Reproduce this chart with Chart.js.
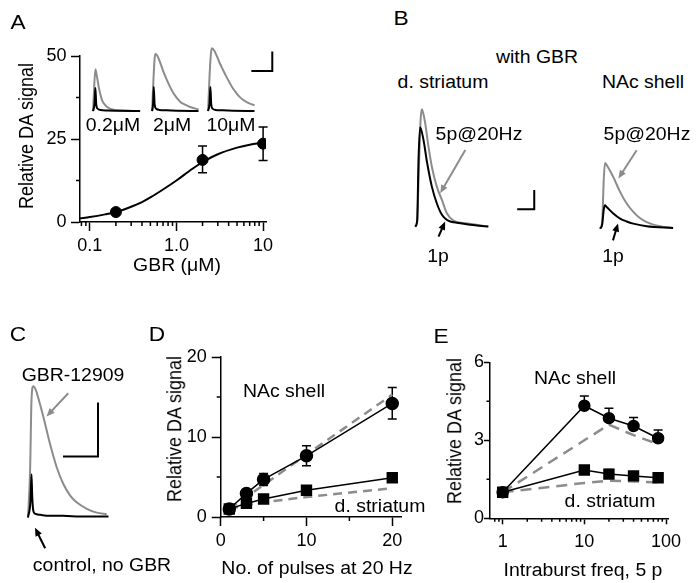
<!DOCTYPE html>
<html>
<head>
<meta charset="utf-8">
<title>GBR and dopamine release</title>
<script src="https://cdn.jsdelivr.net/npm/chart.js@4.4.1/dist/chart.umd.min.js"></script>
<style>
  body { margin: 0; background: #fff; }
  #fig { position: relative; width: 700px; height: 583px; overflow: hidden; }
  .t { position: absolute; transform: translate(-50%, -50%) scaleX(1.08); white-space: nowrap;
       font: 18px "Liberation Sans", Arial, sans-serif; line-height: 1; color: #000; z-index: 5; }
  .t.y { transform: translate(-50%, -50%) rotate(-90deg) scaleY(1.08); }
  .big { font-size: 21px; }
</style>
</head>
<body>
<div id="fig">
  <div class="t big" style="left:17.5px;top:20.5px">A</div>
  <div class="t" style="left:113px;top:125px">0.2μM</div>
  <div class="t" style="left:172px;top:125px">2μM</div>
  <div class="t" style="left:231px;top:125px">10μM</div>
  <div class="t" style="left:177px;top:265px">GBR (μM)</div>
  <div class="t y" style="left:26.7px;top:136px">Relative DA signal</div>

  <div class="t big" style="left:401px;top:17px">B</div>
  <div class="t" style="left:537px;top:57px">with GBR</div>
  <div class="t" style="left:443px;top:82px">d. striatum</div>
  <div class="t" style="left:643px;top:82px">NAc shell</div>
  <div class="t" style="left:479px;top:134px">5p@20Hz</div>
  <div class="t" style="left:646.7px;top:134px">5p@20Hz</div>
  <div class="t" style="left:437.5px;top:256px">1p</div>
  <div class="t" style="left:612.5px;top:256px">1p</div>

  <div class="t big" style="left:18px;top:333px">C</div>
  <div class="t" style="left:73px;top:375px">GBR-12909</div>
  <div class="t" style="left:102px;top:565px">control, no GBR</div>

  <div class="t big" style="left:157px;top:333px">D</div>
  <div class="t" style="left:284px;top:391px">NAc shell</div>
  <div class="t" style="left:380px;top:506px">d. striatum</div>
  <div class="t" style="left:316.7px;top:568px">No. of pulses at 20 Hz</div>
  <div class="t y" style="left:175px;top:428.5px">Relative DA signal</div>

  <div class="t big" style="left:441px;top:335px">E</div>
  <div class="t" style="left:575px;top:378px">NAc shell</div>
  <div class="t" style="left:610px;top:501px">d. striatum</div>
  <div class="t" style="left:583px;top:570px">Intraburst freq, 5 p</div>
  <div class="t y" style="left:455px;top:431px">Relative DA signal</div>
</div>
<script>
Chart.defaults.font.family = '"Liberation Sans", Arial, sans-serif';
Chart.defaults.color = '#000';

var GRAY = '#8c8c8c';

// A: dose response to GBR
var gbrDose = [0.2, 2, 10];
var gbrSignal = [3.0, 18.7, 23.6];
var gbrErrUp = [0, 4.2, 5.0];
var gbrErrDown = [0, 3.9, 5.1];
var fitDose = [0.077, 0.1, 0.15, 0.2, 0.3, 0.4, 0.5, 0.7, 1.0, 1.5, 2, 3, 5, 7, 10];
var fitSignal = [1.1, 1.5, 2.3, 3.0, 4.6, 6.0, 7.4, 9.8, 12.5, 15.9, 18.0, 20.4, 22.4, 23.3, 23.9];
var gbrTicks = [0.1, 1, 10];
var gbrTickLabels = ['0.1', '1.0', '10'];
var gbrMinor = [0.08, 0.09, 0.2, 0.3, 0.4, 0.5, 0.6, 0.7, 0.8, 0.9, 2, 3, 4, 5, 6, 7, 8, 9];
var aTicks = [0, 25, 50];
var aTickLabels = ['0', '25', '50'];

// A insets (time in s, signal in scale-bar units)
var gray02T = [0, 0.05, 0.11, 0.18, 0.27, 0.35, 0.43, 0.55, 0.67, 0.97, 1.4, 2.25];
var gray02V = [0, 1.2, 2.15, 1.8, 1.24, 0.85, 0.55, 0.35, 0.21, 0.07, 0.03, 0];
var black02T = [0, 0.07, 0.11, 0.15, 0.22, 0.35, 0.7, 1.2, 2.25];
var black02V = [0, 0.4, 1.19, 0.35, 0.12, 0.06, 0.03, 0.02, 0];
var gray2T = [0, 0.06, 0.12, 0.16, 0.25, 0.4, 0.55, 0.71, 0.87, 1.03, 1.2, 1.35, 1.6, 1.82, 2.22];
var gray2V = [0, 1.5, 2.7, 2.94, 2.85, 2.46, 2.0, 1.59, 1.22, 0.9, 0.66, 0.47, 0.32, 0.21, 0.09];
var black2T = [0, 0.05, 0.08, 0.12, 0.2, 0.35, 0.7, 1.2, 2.22];
var black2V = [0, 0.4, 1.24, 0.35, 0.12, 0.06, 0.04, 0.02, 0];
var gray10T = [0, 0.07, 0.14, 0.19, 0.3, 0.43, 0.56, 0.72, 0.88, 1.04, 1.19, 1.35, 1.51, 1.67, 1.83, 2.0, 2.22];
var gray10V = [0, 1.8, 3.0, 3.23, 3.1, 2.8, 2.46, 2.1, 1.76, 1.44, 1.16, 0.93, 0.73, 0.58, 0.47, 0.38, 0.3];
var black10T = [0, 0.07, 0.11, 0.15, 0.22, 0.35, 0.7, 1.2, 2.22];
var black10V = [0, 0.4, 1.24, 0.35, 0.12, 0.06, 0.04, 0.02, 0];
var insetBarT = [2.07, 3.07, 3.07];
var insetBarV = [2.06, 2.06, 3.06];

// B: with GBR, 1p vs 5p@20Hz
var grayStrT = [0, 0.12, 0.22, 0.32, 0.39, 0.47, 0.59, 0.78, 0.98, 1.27, 1.57, 1.86, 2.25, 3.02, 4.29];
var grayStrV = [0, 0.3, 3.0, 5.5, 6.08, 5.9, 5.36, 4.15, 3.1, 2.07, 1.38, 0.69, 0.31, 0.17, 0];
var blackStrT = [0, 0.12, 0.2, 0.29, 0.49, 0.69, 0.98, 1.27, 1.57, 1.86, 2.65, 4.29];
var blackStrV = [0, 0.3, 3.5, 5.15, 4.49, 3.37, 2.07, 1.21, 0.61, 0.35, 0.17, 0];
var grayNacT = [0, 0.12, 0.22, 0.29, 0.45, 0.78, 1.18, 1.57, 1.96, 2.35, 2.75, 3.53, 4.31];
var grayNacV = [0, 0.3, 2.6, 3.4, 3.2, 2.67, 1.9, 1.3, 0.87, 0.55, 0.34, 0.12, 0.03];
var blackNacT = [0, 0.12, 0.22, 0.29, 0.39, 0.78, 1.18, 1.57, 1.96, 2.75, 4.31];
var blackNacV = [0, 0.2, 1.0, 1.21, 1.12, 0.78, 0.52, 0.37, 0.26, 0.12, 0.03];
var bBarT = [5.98, 6.98, 6.98];
var bBarV = [0.9, 0.9, 1.9];

// C: GBR-12909 vs control
var grayCT = [0, 0.06, 0.1, 0.15, 0.23, 0.29, 0.44, 0.63, 0.82, 1.01, 1.2, 1.39, 1.68, 1.96, 2.25];
var grayCV = [0, 0.87, 2.17, 2.43, 2.35, 2.22, 1.86, 1.36, 0.93, 0.62, 0.41, 0.28, 0.16, 0.09, 0.06];
var blackCT = [0, 0.07, 0.1, 0.12, 0.15, 0.2, 0.35, 0.6, 1.0, 1.5, 2.0, 2.3];
var blackCV = [0, 0.3, 0.8, 0.4, 0.13, 0.07, 0.05, 0.03, 0.03, 0.02, 0.02, 0.02];
var cBarT = [1.0, 2.0, 2.0];
var cBarV = [1.13, 1.13, 2.13];

// D: number of pulses at 20 Hz
var pulses = [1, 3, 5, 10, 20];
var nacPulse = [1, 2.95, 4.7, 7.65, 14.2];
var nacPulseErrUp = [0, 0.3, 0.75, 1.25, 2.0];
var nacPulseErrDown = [0, 0.3, 0.75, 1.25, 1.95];
var dsPulse = [1, 1.7, 2.25, 3.35, 4.9];
var nacPulseDash = [1, 2.5, 4.0, 7.8, 15.3];
var dsPulseDash = [1, 1.5, 1.85, 2.5, 3.6];
var dTicks = [0, 10, 20];
var dTickLabels = ['0', '10', '20'];

// E: intraburst frequency, 5 pulses
var freq = [1, 10, 20, 40, 80];
var nacFreq = [1, 4.33, 3.85, 3.55, 3.08];
var nacFreqErrUp = [0, 0.37, 0.38, 0.33, 0.32];
var dsFreq = [1, 1.86, 1.70, 1.63, 1.56];
var dsFreqErrUp = [0, 0.05, 0.18, 0.1, 0.1];
var nacFreqDash = [1, 3.0, 3.6, 3.2, 2.85];
var dsFreqDash = [1, 1.36, 1.45, 1.42, 1.38];
var freqTicks = [1, 10, 100];
var freqTickLabels = ['1', '10', '100'];
var freqMinor = [0.8, 0.9, 2, 3, 4, 5, 6, 7, 8, 9, 20, 30, 40, 50, 60, 70, 80, 90];
var eTicks = [0, 3, 6];
var eTickLabels = ['0', '3', '6'];

function pts(xs, ys) {
  return xs.map(function (x, i) { return {x: x, y: ys[i]}; });
}

function canvasAt(left, top, w, h) {
  var c = document.createElement('canvas');
  c.width = Math.round(w);
  c.height = Math.round(h);
  c.style.position = 'absolute';
  c.style.left = Math.round(left) + 'px';
  c.style.top = Math.round(top) + 'px';
  document.getElementById('fig').appendChild(c);
  return c;
}

// short ticks between the labelled ones
var minorTicks = {
  id: 'minorTicks',
  afterDraw: function (chart, args, opts) {
    var ctx = chart.ctx, a = chart.chartArea;
    ctx.save();
    ctx.strokeStyle = '#000';
    ctx.lineWidth = 1.5;
    ctx.beginPath();
    (opts.x || []).forEach(function (v) {
      var px = chart.scales.x.getPixelForValue(v);
      ctx.moveTo(px, a.bottom);
      ctx.lineTo(px, a.bottom + opts.len);
    });
    (opts.y || []).forEach(function (v) {
      var py = chart.scales.y.getPixelForValue(v);
      ctx.moveTo(a.left, py);
      ctx.lineTo(a.left - opts.len, py);
    });
    ctx.stroke();
    ctx.restore();
  }
};

var errorBars = {
  id: 'errorBars',
  beforeDatasetsDraw: function (chart) {
    var ctx = chart.ctx, xs = chart.scales.x, ys = chart.scales.y;
    chart.data.datasets.forEach(function (ds) {
      if (!ds.errUp && !ds.errDown) return;
      ds.data.forEach(function (p, i) {
        var x = xs.getPixelForValue(p.x);
        [[ds.errUp, 1], [ds.errDown, -1]].forEach(function (e) {
          var d = e[0] ? e[0][i] : 0;
          if (!d) return;
          var y0 = ys.getPixelForValue(p.y), y1 = ys.getPixelForValue(p.y + e[1] * d);
          ctx.save();
          ctx.strokeStyle = '#000';
          ctx.lineWidth = 1.5;
          ctx.beginPath();
          ctx.moveTo(x, y0); ctx.lineTo(x, y1);
          ctx.moveTo(x - 4.5, y1); ctx.lineTo(x + 4.5, y1);
          ctx.stroke();
          ctx.restore();
        });
      });
    });
  }
};

var arrowPlugin = {
  id: 'arrows',
  afterDatasetsDraw: function (chart, args, opts) {
    var xs = chart.scales.x, ys = chart.scales.y, ctx = chart.ctx;
    (opts.list || []).forEach(function (a) {
      var x1 = xs.getPixelForValue(a.from[0]), y1 = ys.getPixelForValue(a.from[1]);
      var x2 = xs.getPixelForValue(a.to[0]), y2 = ys.getPixelForValue(a.to[1]);
      var ang = Math.atan2(y2 - y1, x2 - x1), head = 9;
      ctx.save();
      ctx.strokeStyle = a.color;
      ctx.fillStyle = a.color;
      ctx.lineWidth = 2;
      ctx.beginPath();
      ctx.moveTo(x1, y1);
      ctx.lineTo(x2 - Math.cos(ang) * head * 0.8, y2 - Math.sin(ang) * head * 0.8);
      ctx.stroke();
      ctx.beginPath();
      ctx.moveTo(x2, y2);
      ctx.lineTo(x2 - head * Math.cos(ang - 0.4), y2 - head * Math.sin(ang - 0.4));
      ctx.lineTo(x2 - head * Math.cos(ang + 0.4), y2 - head * Math.sin(ang + 0.4));
      ctx.closePath();
      ctx.fill();
      ctx.restore();
    });
  }
};

function axis(type, min, max, major, labels, tickLen, pad, size, horiz) {
  return {
    type: type, min: min, max: max,
    afterBuildTicks: function (s) { s.ticks = major.map(function (v) { return {value: v}; }); },
    afterFit: function (s) { if (horiz) { s.height = size; } else { s.width = size; } },
    ticks: {
      autoSkip: false, maxRotation: 0, minRotation: 0, padding: pad, color: '#000',
      font: {size: 18},
      callback: function (v, i) { return labels[i]; }
    },
    grid: {drawOnChartArea: false, tickLength: tickLen, tickWidth: 1.5, tickColor: '#000'},
    border: {color: '#000', width: 1.5},
    title: {display: false}
  };
}

function plotChart(el, datasets, xAxis, yAxis, pad, minor) {
  return new Chart(el, {
    type: 'line',
    data: {datasets: datasets},
    options: {
      responsive: false, animation: false, events: [],
      layout: {padding: pad},
      plugins: {legend: {display: false}, tooltip: {enabled: false}, minorTicks: minor},
      scales: {x: xAxis, y: yAxis}
    },
    plugins: [minorTicks, errorBars]
  });
}

function trace(ts, vs, color) {
  return {data: pts(ts, vs), borderColor: color, borderWidth: 2, pointRadius: 0,
          cubicInterpolationMode: 'monotone', fill: false};
}
function scaleBar(ts, vs) {
  return {data: pts(ts, vs), borderColor: '#000', borderWidth: 2, pointRadius: 0, tension: 0};
}

function traceChart(el, xr, yr, series, arrowList) {
  return new Chart(el, {
    type: 'line',
    data: {datasets: series},
    options: {
      responsive: false, animation: false, events: [],
      layout: {padding: 0},
      plugins: {legend: {display: false}, tooltip: {enabled: false}, arrows: {list: arrowList || []}},
      scales: {
        x: {type: 'linear', display: false, min: xr[0], max: xr[1]},
        y: {type: 'linear', display: false, min: yr[0], max: yr[1]}
      }
    },
    plugins: [arrowPlugin]
  });
}

// ---- A ----
plotChart(canvasAt(0, 0, 300, 290), [
  {data: pts(gbrDose, gbrSignal), errUp: gbrErrUp, errDown: gbrErrDown, showLine: false,
   pointRadius: 5.5, pointBackgroundColor: '#000', pointBorderColor: '#000'},
  {data: pts(fitDose, fitSignal), borderColor: '#000', borderWidth: 2, pointRadius: 0,
   cubicInterpolationMode: 'monotone'}
],
  axis('logarithmic', 0.077, 10.8, gbrTicks, gbrTickLabels, 9, 4, 68, true),
  axis('linear', 0, 50, aTicks, aTickLabels, 9, 4.5, 80, false),
  {left: 0, top: 56, right: 34, bottom: 0},
  {x: gbrMinor, y: [12.5, 37.5], len: 4});

var insetRange = [[-0.1, 3.2], [-0.15, 3.4]];
traceChart(canvasAt(90.6, 45.1, 69.3, 68.5), insetRange[0], insetRange[1], [
  trace(black02T, black02V, '#000'), trace(gray02T, gray02V, GRAY)]);
traceChart(canvasAt(149.6, 45.1, 69.3, 68.5), insetRange[0], insetRange[1], [
  trace(black2T, black2V, '#000'), trace(gray2T, gray2V, GRAY)]);
traceChart(canvasAt(206.2, 45.1, 69.3, 68.5), insetRange[0], insetRange[1], [
  trace(black10T, black10V, '#000'), trace(gray10T, gray10V, GRAY), scaleBar(insetBarT, insetBarV)]);

// ---- B ----
traceChart(canvasAt(409.9, 103.2, 127.5, 140.9), [-0.3, 7.2], [-0.9, 6.4], [
  trace(blackStrT, blackStrV, '#000'), trace(grayStrT, grayStrV, GRAY), scaleBar(bBarT, bBarV)
], [
  {from: [2.94, 3.97], to: [1.47, 1.73], color: GRAY},
  {from: [1.37, -0.52], to: [1.76, 0.26], color: '#000'}
]);
traceChart(canvasAt(594.9, 104.8, 83.3, 140.9), [-0.3, 4.6], [-0.9, 6.4], [
  trace(blackNacT, blackNacV, '#000'), trace(grayNacT, grayNacV, GRAY)
], [
  {from: [2.16, 4.06], to: [1.08, 2.59], color: GRAY},
  {from: [0.76, -0.61], to: [1.06, 0.27], color: '#000'}
]);

// ---- C ----
traceChart(canvasAt(21, 376.6, 91, 180.9), [-0.2, 2.4], [-0.75, 2.6], [
  trace(blackCT, blackCV, '#000'), trace(grayCT, grayCV, GRAY), scaleBar(cBarT, cBarV)
], [
  {from: [1.15, 2.30], to: [0.53, 1.87], color: GRAY},
  {from: [0.49, -0.57], to: [0.2, -0.19], color: '#000'}
]);

// ---- D ----
plotChart(canvasAt(150, 300, 270, 283), [
  {data: pts(pulses, nacPulse), errUp: nacPulseErrUp, errDown: nacPulseErrDown,
   borderColor: '#000', borderWidth: 1.5, pointRadius: 6, pointBackgroundColor: '#000', pointBorderColor: '#000'},
  {data: pts(pulses, dsPulse), borderColor: '#000', borderWidth: 1.5, pointStyle: 'rect', pointRadius: 7,
   pointBackgroundColor: '#000', pointBorderColor: '#000'},
  {data: pts(pulses, nacPulseDash), borderColor: GRAY, borderWidth: 2.5, borderDash: [9, 6], pointRadius: 0},
  {data: pts(pulses, dsPulseDash), borderColor: GRAY, borderWidth: 2.5, borderDash: [9, 6], pointRadius: 0}
],
  axis('linear', 0, 21.1, dTicks, dTickLabels, 9, 4, 66, true),
  axis('linear', 0, 20, dTicks, dTickLabels, 9, 5, 70.7, false),
  {left: 0, top: 57, right: 18.3, bottom: 0},
  {x: [5, 15], y: [5, 15], len: 4});

// ---- E ----
plotChart(canvasAt(440, 300, 260, 283), [
  {data: pts(freq, nacFreq), errUp: nacFreqErrUp,
   borderColor: '#000', borderWidth: 1.5, pointRadius: 5.5, pointBackgroundColor: '#000', pointBorderColor: '#000'},
  {data: pts(freq, dsFreq), errUp: dsFreqErrUp, borderColor: '#000', borderWidth: 1.5, pointStyle: 'rect',
   pointRadius: 7, pointBackgroundColor: '#000', pointBorderColor: '#000'},
  {data: pts(freq, nacFreqDash), borderColor: GRAY, borderWidth: 2.5, borderDash: [11, 7], pointRadius: 0},
  {data: pts(freq, dsFreqDash), borderColor: GRAY, borderWidth: 2.5, borderDash: [11, 7], pointRadius: 0}
],
  axis('logarithmic', 0.736, 106.6, freqTicks, freqTickLabels, 6, 6.7, 64.7, true),
  axis('linear', 0, 6, eTicks, eTickLabels, 6, 0, 50, false),
  {left: 0, top: 62.3, right: 31.7, bottom: 0},
  {x: freqMinor, y: [1.5, 4.5], len: 3.5});
</script>
</body>
</html>
